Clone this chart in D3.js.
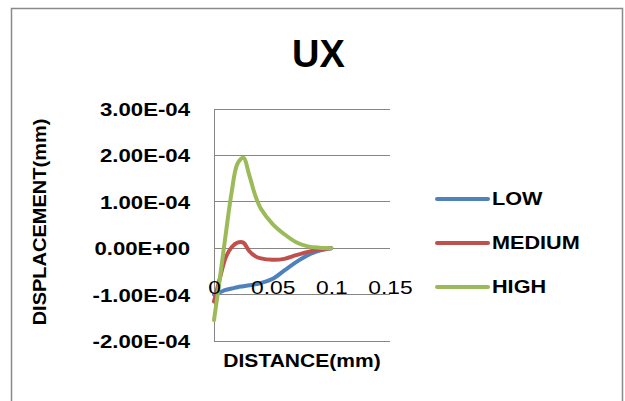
<!DOCTYPE html>
<html><head><meta charset="utf-8">
<script src="https://cdn.jsdelivr.net/npm/d3@7"></script>
<style>
html,body{margin:0;padding:0;background:#fff;}
svg{display:block;font-family:"Liberation Sans",Arial,sans-serif;}
</style></head>
<body>
<svg id="chart" width="625" height="401"></svg>
<script>
// ---- data ----
const distance = [0, 0.005, 0.01, 0.015, 0.02, 0.025, 0.03, 0.035, 0.04, 0.05, 0.06, 0.07, 0.08, 0.09, 0.1];
const lowValues    = [-1.0e-4, -0.95e-4, -0.9e-4, -0.87e-4, -0.84e-4, -0.82e-4, -0.8e-4, -0.78e-4, -0.75e-4, -0.66e-4, -0.48e-4, -0.3e-4, -0.15e-4, -0.05e-4, 0];
const mediumValues = [-1.15e-4, -0.65e-4, -0.2e-4, 0.02e-4, 0.12e-4, 0.12e-4, -0.06e-4, -0.17e-4, -0.22e-4, -0.25e-4, -0.23e-4, -0.15e-4, -0.08e-4, -0.03e-4, 0];
const highValues   = [-1.55e-4, -0.65e-4, 0.3e-4, 1.2e-4, 1.82e-4, 1.95e-4, 1.58e-4, 1.15e-4, 0.85e-4, 0.52e-4, 0.3e-4, 0.13e-4, 0.04e-4, 0.01e-4, 0];
const seriesNames = ["LOW", "MEDIUM", "HIGH"];
const seriesColors = ["#4F81BD", "#C0504D", "#9BBB59"];
const yTicks = [-2e-4, -1e-4, 0, 1e-4, 2e-4, 3e-4];
const xTicks = [0, 0.05, 0.1, 0.15];
const xTickLabels = ["0", "0.05", "0.1", "0.15"];
const chartTitle = "UX";
const xTitle = "DISTANCE(mm)";
const yTitle = "DISPLACEMENT(mm)";

const seriesValues = [lowValues, mediumValues, highValues];

const svg = d3.select("#chart");

// outer chart border
svg.append("rect").attr("x", 11.5).attr("y", 8.5).attr("width", 611).attr("height", 420)
  .attr("fill", "none").attr("stroke", "#8a8a8a").attr("stroke-width", 1.5);

const x = d3.scaleLinear().domain([0, 0.15]).range([214, 390]);
const y = d3.scaleLinear().domain([-2e-4, 3e-4]).range([341, 109]);

function sci(v) {
  const [m, e] = v.toExponential(2).split("e");
  const n = parseInt(e, 10);
  const s = n < 0 ? "-" : "+";
  return m + "E" + s + String(Math.abs(n)).padStart(2, "0");
}

// gridlines
svg.append("g").selectAll("line").data(yTicks).join("line")
  .attr("x1", x(0)).attr("x2", x(0.15))
  .attr("y1", d => y(d)).attr("y2", d => y(d))
  .attr("stroke", "#868686").attr("stroke-width", 1).attr("shape-rendering", "crispEdges");

// vertical axis line
svg.append("line").attr("x1", x(0)).attr("x2", x(0)).attr("y1", y(3e-4)).attr("y2", y(-2e-4))
  .attr("stroke", "#868686").attr("stroke-width", 1).attr("shape-rendering", "crispEdges");

// y axis labels
const ya = svg.append("g").attr("transform", `translate(${x(0)},0)`)
  .call(d3.axisLeft(y).tickValues(yTicks).tickFormat(sci).tickSize(0).tickPadding(0));
ya.select(".domain").remove();
ya.selectAll("text")
  .attr("x", -24 / 1.2).attr("dy", "0.35em")
  .attr("transform", "scale(1.2,1)")
  .attr("font-size", 18.5).attr("font-weight", "bold").attr("fill", "#000")
  .attr("font-family", "'Liberation Sans',Arial,sans-serif");

// series lines
const line = d3.line().x(d => x(d[0])).y(d => y(d[1])).curve(d3.curveCatmullRom.alpha(0.5));
seriesValues.forEach((vals, i) => {
  svg.append("path")
    .datum(distance.map((d, j) => [d, vals[j]]))
    .attr("d", line)
    .attr("fill", "none").attr("stroke", seriesColors[i])
    .attr("stroke-width", 4).attr("stroke-linejoin", "round").attr("stroke-linecap", "round");
});

// x axis labels
const xa = svg.append("g").attr("transform", `translate(0,287)`)
  .call(d3.axisBottom(x).tickValues(xTicks).tickFormat((d, i) => xTickLabels[i]).tickSize(0).tickPadding(0));
xa.select(".domain").remove();
xa.selectAll(".tick").each(function(d) {
  d3.select(this).select("text")
    .attr("y", 0).attr("dy", "0.35em")
    .attr("transform", "scale(1.2,1)")
    .attr("font-size", 19).attr("fill", "#000")
    .attr("font-family", "'Liberation Sans',Arial,sans-serif");
});

// title
svg.append("text").attr("x", 318.5).attr("y", 66.5).attr("text-anchor", "middle")
  .attr("font-size", 38).attr("font-weight", "bold").text(chartTitle);

// x title
svg.append("text").attr("transform", "translate(302,366.5) scale(1.12,1)")
  .attr("text-anchor", "middle").attr("font-size", 18.8).attr("font-weight", "bold").text(xTitle);

// y title
svg.append("text").attr("transform", "translate(46,222) rotate(-90) scale(1.065,1)")
  .attr("text-anchor", "middle").attr("font-size", 18.8).attr("font-weight", "bold").text(yTitle);

// legend
const legY = [199, 243, 287];
const lg = svg.append("g").selectAll("g").data(seriesNames).join("g")
  .attr("transform", (d, i) => `translate(437,${legY[i]})`);
lg.append("line").attr("x1", 0).attr("x2", 51).attr("y1", 0).attr("y2", 0)
  .attr("stroke", (d, i) => seriesColors[i]).attr("stroke-width", 4).attr("stroke-linecap", "round");
lg.append("text").attr("transform", "translate(55,0) scale(1.17,1)").attr("dy", "0.35em")
  .attr("font-size", 18.5).attr("font-weight", "bold").text(d => d);
</script>
</body></html>
